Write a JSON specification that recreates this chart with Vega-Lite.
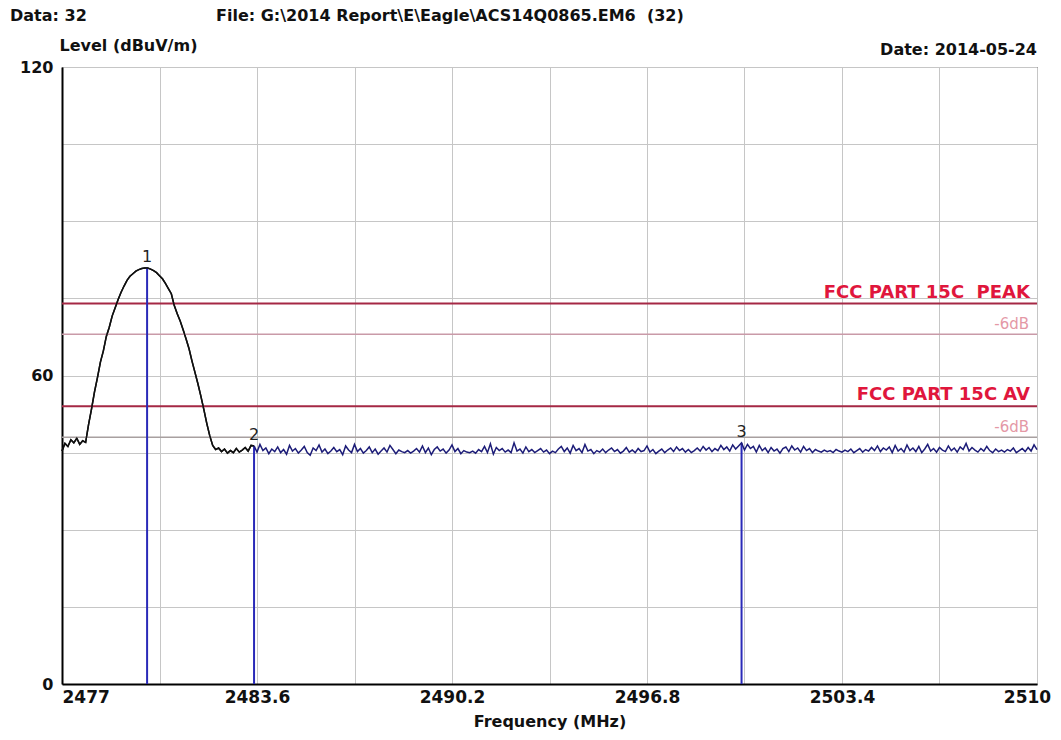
{
  "$schema": "https://vega.github.io/schema/vega-lite/v6.json",
  "width": 975,
  "height": 617,
  "autosize": {"type": "none"},
  "padding": {"left": 62, "top": 67, "right": 24, "bottom": 56},
  "background": "white",
  "config": {
    "font": "DejaVu Sans",
    "view": {"stroke": "#000000", "strokeWidth": 1},
    "axis": {
      "domainColor": "#000000",
      "domainWidth": 2,
      "gridColor": "#c6c6c6",
      "gridWidth": 1,
      "tickSize": 0,
      "labelFont": "DejaVu Sans",
      "labelFontWeight": "bold",
      "labelColor": "#111111",
      "titleFont": "DejaVu Sans",
      "titleFontWeight": "bold",
      "titleColor": "#111111"
    }
  },
  "datasets": {
    "trace1": [
      {"f": 2477.0, "v": 45.3}, {"f": 2477.1, "v": 46.8}, {"f": 2477.2, "v": 46.2}, {"f": 2477.3, "v": 47.5},
      {"f": 2477.4, "v": 46.9}, {"f": 2477.5, "v": 47.8}, {"f": 2477.6, "v": 46.6}, {"f": 2477.7, "v": 47.3},
      {"f": 2477.8, "v": 47.0}, {"f": 2477.9, "v": 50.5}, {"f": 2478.0, "v": 53.5}, {"f": 2478.1, "v": 56.8},
      {"f": 2478.2, "v": 59.6}, {"f": 2478.3, "v": 62.6}, {"f": 2478.4, "v": 64.8}, {"f": 2478.5, "v": 67.6},
      {"f": 2478.6, "v": 69.4}, {"f": 2478.7, "v": 71.6}, {"f": 2478.8, "v": 73.2}, {"f": 2478.9, "v": 74.8},
      {"f": 2479.0, "v": 76.2}, {"f": 2479.1, "v": 77.4}, {"f": 2479.2, "v": 78.5}, {"f": 2479.3, "v": 79.3},
      {"f": 2479.4, "v": 79.8}, {"f": 2479.5, "v": 80.3}, {"f": 2479.6, "v": 80.6}, {"f": 2479.7, "v": 80.8},
      {"f": 2479.8, "v": 80.9}, {"f": 2479.9, "v": 80.9}, {"f": 2480.0, "v": 80.7}, {"f": 2480.1, "v": 80.4},
      {"f": 2480.2, "v": 80.0}, {"f": 2480.3, "v": 79.4}, {"f": 2480.4, "v": 78.8}, {"f": 2480.5, "v": 77.9},
      {"f": 2480.6, "v": 76.9}, {"f": 2480.7, "v": 75.9}, {"f": 2480.8, "v": 73.6}, {"f": 2480.9, "v": 72.0},
      {"f": 2481.0, "v": 70.6}, {"f": 2481.1, "v": 68.9}, {"f": 2481.2, "v": 67.1}, {"f": 2481.3, "v": 65.2},
      {"f": 2481.4, "v": 62.8}, {"f": 2481.5, "v": 60.6}, {"f": 2481.6, "v": 58.4}, {"f": 2481.7, "v": 56.0},
      {"f": 2481.8, "v": 53.4}, {"f": 2481.9, "v": 50.7}, {"f": 2482.0, "v": 48.3}, {"f": 2482.1, "v": 46.4},
      {"f": 2482.2, "v": 45.6}, {"f": 2482.3, "v": 45.9}, {"f": 2482.4, "v": 45.2}, {"f": 2482.5, "v": 45.7},
      {"f": 2482.6, "v": 44.9}, {"f": 2482.7, "v": 45.4}, {"f": 2482.8, "v": 45.0}, {"f": 2482.9, "v": 45.8},
      {"f": 2483.0, "v": 45.1}, {"f": 2483.1, "v": 45.5}, {"f": 2483.2, "v": 46.0}, {"f": 2483.3, "v": 45.3},
      {"f": 2483.4, "v": 46.4}, {"f": 2483.5, "v": 46.3}
    ],
    "trace2": [
      {"f": 2483.5, "v": 46.3}, {"f": 2483.6, "v": 45.1}, {"f": 2483.7, "v": 46.6}, {"f": 2483.8, "v": 45.4},
      {"f": 2483.9, "v": 45.9}, {"f": 2484.0, "v": 44.8}, {"f": 2484.1, "v": 45.7}, {"f": 2484.2, "v": 45.2},
      {"f": 2484.3, "v": 46.1}, {"f": 2484.4, "v": 45.0}, {"f": 2484.5, "v": 45.6}, {"f": 2484.6, "v": 44.7},
      {"f": 2484.7, "v": 46.4}, {"f": 2484.8, "v": 45.3}, {"f": 2484.9, "v": 45.8}, {"f": 2485.0, "v": 44.9},
      {"f": 2485.1, "v": 45.5}, {"f": 2485.2, "v": 46.2}, {"f": 2485.3, "v": 45.0}, {"f": 2485.4, "v": 44.5},
      {"f": 2485.5, "v": 45.9}, {"f": 2485.6, "v": 45.4}, {"f": 2485.7, "v": 46.5}, {"f": 2485.8, "v": 45.1},
      {"f": 2485.9, "v": 45.7}, {"f": 2486.0, "v": 44.8}, {"f": 2486.1, "v": 45.3}, {"f": 2486.2, "v": 46.0},
      {"f": 2486.3, "v": 45.2}, {"f": 2486.4, "v": 45.6}, {"f": 2486.5, "v": 44.6}, {"f": 2486.6, "v": 46.3},
      {"f": 2486.7, "v": 45.5}, {"f": 2486.8, "v": 45.0}, {"f": 2486.9, "v": 46.6}, {"f": 2487.0, "v": 45.2},
      {"f": 2487.1, "v": 45.8}, {"f": 2487.2, "v": 44.9}, {"f": 2487.3, "v": 45.4}, {"f": 2487.4, "v": 46.1},
      {"f": 2487.5, "v": 45.0}, {"f": 2487.6, "v": 45.7}, {"f": 2487.7, "v": 44.7}, {"f": 2487.8, "v": 45.3},
      {"f": 2487.9, "v": 45.9}, {"f": 2488.0, "v": 45.1}, {"f": 2488.1, "v": 46.4}, {"f": 2488.2, "v": 45.6},
      {"f": 2488.3, "v": 44.8}, {"f": 2488.4, "v": 45.5}, {"f": 2488.5, "v": 45.2}, {"f": 2488.6, "v": 45.0},
      {"f": 2488.7, "v": 45.4}, {"f": 2488.8, "v": 44.9}, {"f": 2488.9, "v": 45.3}, {"f": 2489.0, "v": 45.8},
      {"f": 2489.1, "v": 45.1}, {"f": 2489.2, "v": 46.3}, {"f": 2489.3, "v": 45.0}, {"f": 2489.4, "v": 45.9},
      {"f": 2489.5, "v": 44.6}, {"f": 2489.6, "v": 45.6}, {"f": 2489.7, "v": 46.1}, {"f": 2489.8, "v": 45.3},
      {"f": 2489.9, "v": 45.7}, {"f": 2490.0, "v": 44.9}, {"f": 2490.1, "v": 45.5}, {"f": 2490.2, "v": 46.5},
      {"f": 2490.3, "v": 45.2}, {"f": 2490.4, "v": 45.8}, {"f": 2490.5, "v": 44.8}, {"f": 2490.6, "v": 45.4},
      {"f": 2490.7, "v": 45.1}, {"f": 2490.8, "v": 45.0}, {"f": 2490.9, "v": 45.3}, {"f": 2491.0, "v": 44.9},
      {"f": 2491.1, "v": 45.6}, {"f": 2491.2, "v": 45.2}, {"f": 2491.3, "v": 46.2}, {"f": 2491.4, "v": 45.0},
      {"f": 2491.5, "v": 46.7}, {"f": 2491.6, "v": 44.7}, {"f": 2491.7, "v": 46.0}, {"f": 2491.8, "v": 45.4},
      {"f": 2491.9, "v": 45.8}, {"f": 2492.0, "v": 45.1}, {"f": 2492.1, "v": 45.5}, {"f": 2492.2, "v": 45.0},
      {"f": 2492.3, "v": 46.9}, {"f": 2492.4, "v": 45.3}, {"f": 2492.5, "v": 45.7}, {"f": 2492.6, "v": 44.9},
      {"f": 2492.7, "v": 46.1}, {"f": 2492.8, "v": 45.2}, {"f": 2492.9, "v": 45.6}, {"f": 2493.0, "v": 45.0},
      {"f": 2493.1, "v": 45.4}, {"f": 2493.2, "v": 45.8}, {"f": 2493.3, "v": 45.1}, {"f": 2493.4, "v": 45.5},
      {"f": 2493.5, "v": 44.8}, {"f": 2493.6, "v": 45.3}, {"f": 2493.7, "v": 45.0}, {"f": 2493.8, "v": 45.7},
      {"f": 2493.9, "v": 46.2}, {"f": 2494.0, "v": 45.2}, {"f": 2494.1, "v": 45.9}, {"f": 2494.2, "v": 44.9},
      {"f": 2494.3, "v": 46.4}, {"f": 2494.4, "v": 45.4}, {"f": 2494.5, "v": 45.8}, {"f": 2494.6, "v": 45.0},
      {"f": 2494.7, "v": 46.6}, {"f": 2494.8, "v": 45.3}, {"f": 2494.9, "v": 45.6}, {"f": 2495.0, "v": 44.8},
      {"f": 2495.1, "v": 45.4}, {"f": 2495.2, "v": 45.1}, {"f": 2495.3, "v": 45.7}, {"f": 2495.4, "v": 45.0},
      {"f": 2495.5, "v": 45.5}, {"f": 2495.6, "v": 45.9}, {"f": 2495.7, "v": 45.2}, {"f": 2495.8, "v": 45.6},
      {"f": 2495.9, "v": 44.9}, {"f": 2496.0, "v": 45.3}, {"f": 2496.1, "v": 46.0}, {"f": 2496.2, "v": 45.1},
      {"f": 2496.3, "v": 45.5}, {"f": 2496.4, "v": 45.0}, {"f": 2496.5, "v": 45.8}, {"f": 2496.6, "v": 45.2},
      {"f": 2496.7, "v": 45.4}, {"f": 2496.8, "v": 46.3}, {"f": 2496.9, "v": 45.1}, {"f": 2497.0, "v": 45.6},
      {"f": 2497.1, "v": 44.8}, {"f": 2497.2, "v": 45.3}, {"f": 2497.3, "v": 45.7}, {"f": 2497.4, "v": 45.0},
      {"f": 2497.5, "v": 45.5}, {"f": 2497.6, "v": 45.9}, {"f": 2497.7, "v": 45.2}, {"f": 2497.8, "v": 46.1},
      {"f": 2497.9, "v": 45.4}, {"f": 2498.0, "v": 45.8}, {"f": 2498.1, "v": 45.1}, {"f": 2498.2, "v": 45.6},
      {"f": 2498.3, "v": 45.0}, {"f": 2498.4, "v": 45.4}, {"f": 2498.5, "v": 45.9}, {"f": 2498.6, "v": 45.3},
      {"f": 2498.7, "v": 46.2}, {"f": 2498.8, "v": 45.5}, {"f": 2498.9, "v": 46.0}, {"f": 2499.0, "v": 45.2},
      {"f": 2499.1, "v": 45.8}, {"f": 2499.2, "v": 45.4}, {"f": 2499.3, "v": 46.4}, {"f": 2499.4, "v": 45.6},
      {"f": 2499.5, "v": 46.1}, {"f": 2499.6, "v": 45.3}, {"f": 2499.7, "v": 46.5}, {"f": 2499.8, "v": 45.7},
      {"f": 2499.9, "v": 46.3}, {"f": 2500.0, "v": 46.9}, {"f": 2500.1, "v": 45.5}, {"f": 2500.2, "v": 46.6},
      {"f": 2500.3, "v": 45.8}, {"f": 2500.4, "v": 46.2}, {"f": 2500.5, "v": 45.1}, {"f": 2500.6, "v": 46.4},
      {"f": 2500.7, "v": 45.4}, {"f": 2500.8, "v": 45.9}, {"f": 2500.9, "v": 45.0}, {"f": 2501.0, "v": 46.0},
      {"f": 2501.1, "v": 45.3}, {"f": 2501.2, "v": 45.7}, {"f": 2501.3, "v": 44.9}, {"f": 2501.4, "v": 45.8},
      {"f": 2501.5, "v": 46.1}, {"f": 2501.6, "v": 45.2}, {"f": 2501.7, "v": 46.3}, {"f": 2501.8, "v": 45.5},
      {"f": 2501.9, "v": 45.9}, {"f": 2502.0, "v": 45.1}, {"f": 2502.1, "v": 46.2}, {"f": 2502.2, "v": 45.4},
      {"f": 2502.3, "v": 45.8}, {"f": 2502.4, "v": 45.0}, {"f": 2502.5, "v": 45.6}, {"f": 2502.6, "v": 45.3},
      {"f": 2502.7, "v": 45.1}, {"f": 2502.8, "v": 45.5}, {"f": 2502.9, "v": 45.2}, {"f": 2503.0, "v": 45.4},
      {"f": 2503.1, "v": 45.0}, {"f": 2503.2, "v": 45.6}, {"f": 2503.3, "v": 45.3}, {"f": 2503.4, "v": 45.1},
      {"f": 2503.5, "v": 45.5}, {"f": 2503.6, "v": 45.2}, {"f": 2503.7, "v": 45.7}, {"f": 2503.8, "v": 45.0},
      {"f": 2503.9, "v": 45.4}, {"f": 2504.0, "v": 45.8}, {"f": 2504.1, "v": 45.1}, {"f": 2504.2, "v": 45.6},
      {"f": 2504.3, "v": 45.3}, {"f": 2504.4, "v": 46.0}, {"f": 2504.5, "v": 45.4}, {"f": 2504.6, "v": 46.3},
      {"f": 2504.7, "v": 45.2}, {"f": 2504.8, "v": 45.9}, {"f": 2504.9, "v": 45.5}, {"f": 2505.0, "v": 46.1},
      {"f": 2505.1, "v": 45.0}, {"f": 2505.2, "v": 46.4}, {"f": 2505.3, "v": 45.3}, {"f": 2505.4, "v": 45.8},
      {"f": 2505.5, "v": 45.1}, {"f": 2505.6, "v": 46.5}, {"f": 2505.7, "v": 45.4}, {"f": 2505.8, "v": 45.9},
      {"f": 2505.9, "v": 45.2}, {"f": 2506.0, "v": 46.2}, {"f": 2506.1, "v": 45.0}, {"f": 2506.2, "v": 45.7},
      {"f": 2506.3, "v": 46.6}, {"f": 2506.4, "v": 45.3}, {"f": 2506.5, "v": 45.8}, {"f": 2506.6, "v": 45.1},
      {"f": 2506.7, "v": 46.0}, {"f": 2506.8, "v": 45.5}, {"f": 2506.9, "v": 45.2}, {"f": 2507.0, "v": 46.3},
      {"f": 2507.1, "v": 45.4}, {"f": 2507.2, "v": 45.9}, {"f": 2507.3, "v": 45.1}, {"f": 2507.4, "v": 46.1},
      {"f": 2507.5, "v": 45.6}, {"f": 2507.6, "v": 46.8}, {"f": 2507.7, "v": 45.3}, {"f": 2507.8, "v": 46.0},
      {"f": 2507.9, "v": 45.5}, {"f": 2508.0, "v": 45.1}, {"f": 2508.1, "v": 45.8}, {"f": 2508.2, "v": 45.3},
      {"f": 2508.3, "v": 46.2}, {"f": 2508.4, "v": 45.4}, {"f": 2508.5, "v": 45.0}, {"f": 2508.6, "v": 45.7},
      {"f": 2508.7, "v": 45.2}, {"f": 2508.8, "v": 45.5}, {"f": 2508.9, "v": 45.1}, {"f": 2509.0, "v": 45.6},
      {"f": 2509.1, "v": 45.3}, {"f": 2509.2, "v": 45.9}, {"f": 2509.3, "v": 45.0}, {"f": 2509.4, "v": 45.4},
      {"f": 2509.5, "v": 45.8}, {"f": 2509.6, "v": 45.2}, {"f": 2509.7, "v": 46.0}, {"f": 2509.8, "v": 45.3},
      {"f": 2509.9, "v": 46.5}, {"f": 2510.0, "v": 45.6}
    ],
    "limits": [
      {"name": "FCC PART 15C\u00a0 PEAK", "lv": 74},
      {"name": "FCC PART 15C AV", "lv": 54}
    ],
    "margins": [
      {"name": "-6dB", "lv": 68},
      {"name": "-6dB", "lv": 48}
    ],
    "markers": [
      {"n": "1", "f": 2479.88, "lv": 80.9, "base": 0},
      {"n": "2", "f": 2483.5, "lv": 46.3, "base": 0},
      {"n": "3", "f": 2500.0, "lv": 46.9, "base": 0}
    ]
  },
  "layer": [
    {
      "data": {"name": "trace1"},
      "mark": {"type": "line", "color": "#101010", "strokeWidth": 1.5},
      "encoding": {
        "x": {
          "field": "f",
          "type": "quantitative",
          "scale": {"domain": [2477, 2510], "nice": false, "zero": false},
          "axis": {
            "title": "Frequency (MHz)",
            "titleFontSize": 16,
            "titlePadding": 8,
            "labelFontSize": 17,
            "labelPadding": 5,
            "labelFlush": false,
            "labelAlign": {"condition": {"test": "datum.value === 2477", "value": "left"}, "value": "center"},
            "labelOffset": {"condition": {"test": "datum.value === 2510", "value": -10}, "value": 0},
            "values": [2477, 2480.3, 2483.6, 2486.9, 2490.2, 2493.5, 2496.8, 2500.1, 2503.4, 2506.7, 2510],
            "labelExpr": "indexof([2477, 2483.6, 2490.2, 2496.8, 2503.4, 2510], datum.value) >= 0 ? format(datum.value, '.1~f') : ''"
          }
        },
        "y": {
          "field": "v",
          "type": "quantitative",
          "scale": {"domain": [0, 120], "nice": false},
          "axis": {
            "title": "Level (dBuV/m)",
            "titleAngle": 0,
            "titleAlign": "left",
            "titleBaseline": "middle",
            "titleX": -3,
            "titleY": -22,
            "titleFontSize": 16,
            "labelFontSize": 16,
            "labelPadding": 9,
            "values": [0, 15, 30, 45, 60, 75, 90, 105, 120],
            "labelExpr": "datum.value % 60 === 0 ? datum.label : ''"
          }
        }
      }
    },
    {
      "data": {"name": "margins"},
      "transform": [{"filter": "datum.lv === 68"}],
      "mark": {"type": "rule", "color": "#c99aa8", "strokeWidth": 1.5},
      "encoding": {"y": {"field": "lv", "type": "quantitative"}}
    },
    {
      "data": {"name": "margins"},
      "transform": [{"filter": "datum.lv === 48"}],
      "mark": {"type": "rule", "color": "#a8a0a0", "strokeWidth": 1.5},
      "encoding": {"y": {"field": "lv", "type": "quantitative"}}
    },
    {
      "data": {"name": "margins"},
      "mark": {"type": "text", "align": "right", "baseline": "alphabetic", "dx": -8, "dy": -5, "fontSize": 15, "color": "#e498a6"},
      "encoding": {"x": {"datum": 2510, "type": "quantitative"}, "y": {"field": "lv", "type": "quantitative"}, "text": {"field": "name", "type": "nominal"}}
    },
    {
      "data": {"name": "limits"},
      "mark": {"type": "rule", "color": "#a52845", "strokeWidth": 2},
      "encoding": {"y": {"field": "lv", "type": "quantitative"}}
    },
    {
      "data": {"name": "limits"},
      "mark": {"type": "text", "align": "right", "baseline": "alphabetic", "dx": -7, "dy": -6, "fontSize": 18, "fontWeight": "bold", "color": "#e0163c"},
      "encoding": {"x": {"datum": 2510, "type": "quantitative"}, "y": {"field": "lv", "type": "quantitative"}, "text": {"field": "name", "type": "nominal"}}
    },
    {
      "data": {"name": "markers"},
      "mark": {"type": "rule", "color": "#2a2ab8", "strokeWidth": 2},
      "encoding": {"x": {"field": "f", "type": "quantitative"}, "y": {"field": "lv", "type": "quantitative"}, "y2": {"field": "base"}}
    },
    {
      "data": {"name": "trace1"},
      "mark": {"type": "line", "color": "#101010", "strokeWidth": 1.5},
      "encoding": {"x": {"field": "f", "type": "quantitative"}, "y": {"field": "v", "type": "quantitative"}}
    },
    {
      "data": {"name": "trace2"},
      "mark": {"type": "line", "color": "#1c1c78", "strokeWidth": 1.5},
      "encoding": {"x": {"field": "f", "type": "quantitative"}, "y": {"field": "v", "type": "quantitative"}}
    },
    {
      "data": {"name": "markers"},
      "mark": {"type": "text", "baseline": "alphabetic", "dy": -6, "fontSize": 16, "color": "#222222"},
      "encoding": {"x": {"field": "f", "type": "quantitative"}, "y": {"field": "lv", "type": "quantitative"}, "text": {"field": "n", "type": "nominal"}}
    },
    {
      "data": {"values": [{"t": "Date: 2014-05-24"}]},
      "mark": {"type": "text", "align": "right", "baseline": "middle", "dx": 0, "dy": -17, "fontSize": 16, "fontWeight": "bold", "color": "#111111"},
      "encoding": {"x": {"datum": 2510, "type": "quantitative"}, "y": {"datum": 120, "type": "quantitative"}, "text": {"field": "t", "type": "nominal"}}
    },
    {
      "data": {"values": [{"t": "Data: 32"}]},
      "mark": {"type": "text", "align": "left", "baseline": "middle", "dx": -52, "dy": -51, "fontSize": 16, "fontWeight": "bold", "color": "#111111"},
      "encoding": {"x": {"datum": 2477, "type": "quantitative"}, "y": {"datum": 120, "type": "quantitative"}, "text": {"field": "t", "type": "nominal"}}
    },
    {
      "data": {"values": [{"t": "File: G:\\2014 Report\\E\\Eagle\\ACS14Q0865.EM6\u00a0 (32)"}]},
      "mark": {"type": "text", "align": "left", "baseline": "middle", "dx": 154, "dy": -51, "fontSize": 16, "fontWeight": "bold", "color": "#111111"},
      "encoding": {"x": {"datum": 2477, "type": "quantitative"}, "y": {"datum": 120, "type": "quantitative"}, "text": {"field": "t", "type": "nominal"}}
    }
  ]
}
